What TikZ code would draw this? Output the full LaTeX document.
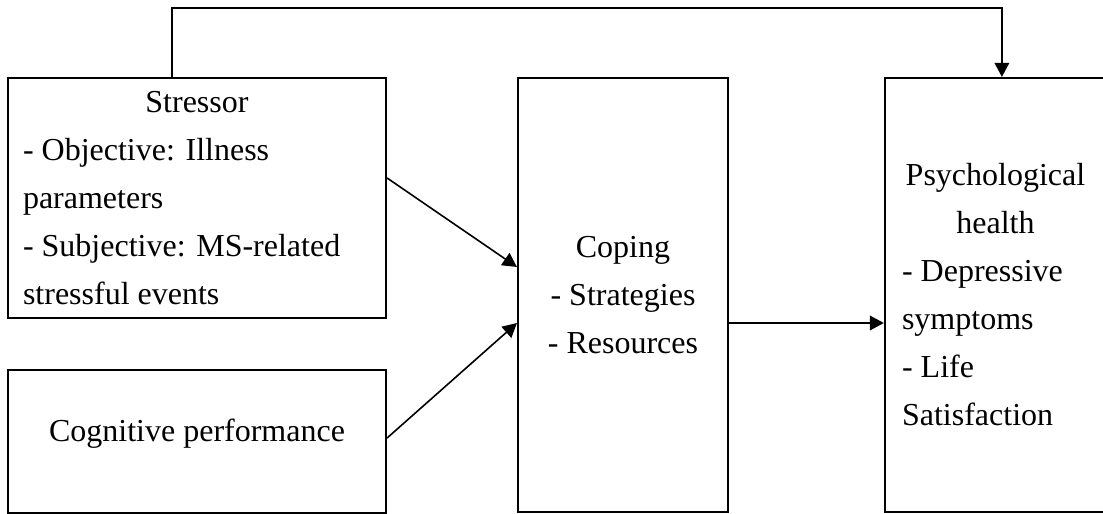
\documentclass[tikz,border=0pt]{standalone}
\usepackage{fontspec}
\setmainfont{Liberation Serif}
\usetikzlibrary{arrows.meta,positioning}

\begin{document}
\begin{tikzpicture}[
  x=0.375pt, y=-0.375pt,
  box/.style={draw, line width=0.8pt, inner sep=0pt, font=\fontsize{12}{18}\selectfont},
  link/.style={-{Triangle[length=5.3pt, width=5.5pt]}, line width=0.6pt}
]
\useasboundingbox (0,0) rectangle (1103,514);
\node[box, minimum width=141.75pt, minimum height=90pt, text width=130.5pt, align=flush left] (str) at (197,198)
  {\hfill Stressor\hfill\null\\- Objective: Illness\\parameters\\- Subjective: MS-related\\stressful events};
\node[box, minimum width=141.75pt, minimum height=53.6pt, text height=8pt, text depth=8pt] (cog) at (197,441.5) {Cognitive performance};
\node[box, minimum width=78.75pt, minimum height=162.75pt, align=center] (cop) at (623,295)
  {Coping\\- Strategies\\- Resources};
\node[box, minimum width=82.9pt, minimum height=162.75pt, text width=70.1pt, align=flush left] (psy) at (995.5,295)
  {\hfill Psychological\hfill\null\\\hfill health\hfill\null\\- Depressive\\symptoms\\- Life\\Satisfaction};
\draw[link] ([xshift=-9.4pt]str.north) -- ++(0,-69) -| ([xshift=2.4pt]psy.north);
\draw[link] ([yshift=7.5pt]str.east) -- ([yshift=10.5pt]cop.west);
\draw[link] ([yshift=1.3pt]cog.east) -- ([yshift=-10.5pt]cop.west);
\draw[link] ([yshift=-10.5pt]cop.east) -- ([yshift=-10.5pt]psy.west);
\end{tikzpicture}
\end{document}
